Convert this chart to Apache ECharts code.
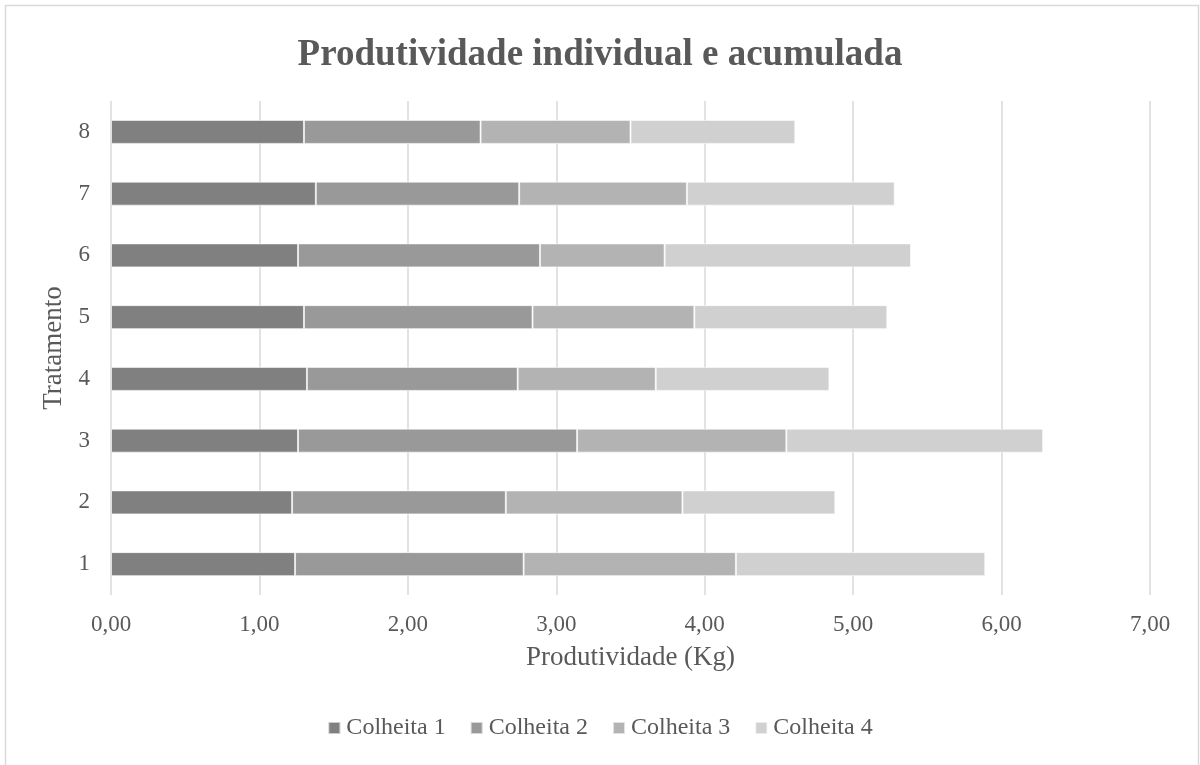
<!DOCTYPE html>
<html>
<head>
<meta charset="utf-8">
<title>Produtividade individual e acumulada</title>
<script src="https://cdn.jsdelivr.net/npm/echarts@6/dist/echarts.min.js"></script>
<style>
  html, body { margin: 0; padding: 0; background: #fff; }
  #chart { width: 1200px; height: 765px; }
</style>
</head>
<body>
<div id="chart"></div>
<script>
// tratamentos (eixo vertical, de baixo para cima)
const tratamentos = ['1', '2', '3', '4', '5', '6', '7', '8']
// produtividade de cada colheita (Kg)
const colheita1 = [1.24, 1.22, 1.26, 1.32, 1.30, 1.26, 1.38, 1.30]
const colheita2 = [1.54, 1.44, 1.88, 1.42, 1.54, 1.63, 1.37, 1.19]
const colheita3 = [1.43, 1.19, 1.41, 0.93, 1.09, 0.84, 1.13, 1.01]
const colheita4 = [1.68, 1.03, 1.73, 1.17, 1.30, 1.66, 1.40, 1.11]
const seriesNames = ['Colheita 1', 'Colheita 2', 'Colheita 3', 'Colheita 4']
const colors = ['#808080', '#999999', '#b3b3b3', '#d0d0d0']

const fontFamily = "'Liberation Serif', 'Times New Roman', serif"
const textColor = '#595959'

const chart = echarts.init(document.getElementById('chart'))

const allData = [colheita1, colheita2, colheita3, colheita4]
const series = allData.map((data, i) => ({
  name: seriesNames[i],
  type: 'bar',
  stack: 'total',
  barWidth: 24,
  data: data,
  itemStyle: {
    color: colors[i],
    borderColor: 'rgba(255,255,255,0.6)',
    borderWidth: 1
  },
  emphasis: { disabled: true }
}))

chart.setOption({
  animation: false,
  color: colors,
  textStyle: { fontFamily: fontFamily, color: textColor },
  title: {
    text: 'Produtividade individual e acumulada',
    left: 'center',
    top: 32,
    textStyle: {
      fontFamily: fontFamily,
      fontSize: 37,
      fontWeight: 'bold',
      color: textColor
    }
  },
  // moldura da area do grafico
  graphic: [{
    type: 'rect',
    shape: { x: 5.5, y: 5.5, width: 1193, height: 820 },
    style: { fill: 'none', stroke: '#d9d9d9', lineWidth: 1.5 },
    silent: true
  }],
  legend: {
    bottom: 20,
    left: 'center',
    icon: 'rect',
    itemWidth: 12,
    itemHeight: 12,
    itemGap: 24,
    textStyle: { fontFamily: fontFamily, fontSize: 24, color: textColor, padding: [0, 0, 0, 1] },
    data: seriesNames
  },
  grid: {
    left: 111,
    right: 50,
    top: 101,
    bottom: 170,
    containLabel: false
  },
  xAxis: {
    type: 'value',
    min: 0,
    max: 7,
    interval: 1,
    name: 'Produtividade (Kg)',
    nameLocation: 'middle',
    nameGap: 49,
    nameTextStyle: { fontFamily: fontFamily, fontSize: 27, color: textColor },
    axisLine: { show: false },
    axisTick: { show: false },
    axisLabel: {
      fontFamily: fontFamily,
      fontSize: 23,
      color: textColor,
      margin: 18,
      formatter: v => v.toFixed(2).replace('.', ',')
    },
    splitLine: { show: true, lineStyle: { color: '#d9d9d9', width: 1.5 } }
  },
  yAxis: {
    type: 'category',
    data: tratamentos,
    name: 'Tratamento',
    nameLocation: 'middle',
    nameGap: 41,
    nameTextStyle: { fontFamily: fontFamily, fontSize: 27, color: textColor },
    axisLine: { show: false },
    axisTick: { show: false },
    axisLabel: { fontFamily: fontFamily, fontSize: 23, color: textColor, margin: 21 },
    splitLine: { show: false }
  },
  series: series
})
</script>
</body>
</html>
